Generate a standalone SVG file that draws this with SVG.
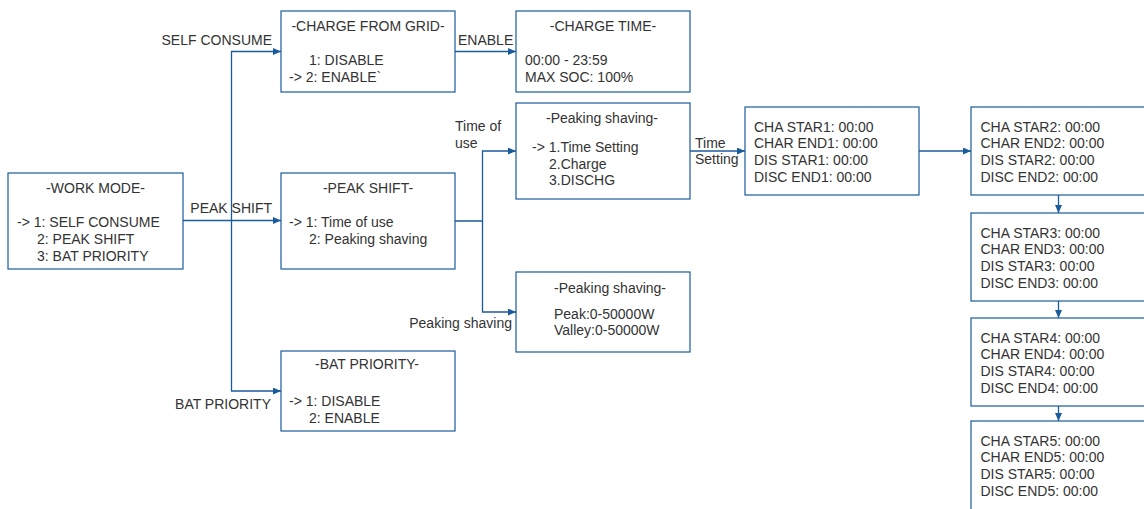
<svg xmlns="http://www.w3.org/2000/svg" width="1144" height="509" viewBox="0 0 1144 509">
<style>
.box{fill:#ffffff;stroke:#1a5b9c;stroke-width:1.2}
.t{font-family:"Liberation Sans",Arial,sans-serif;font-size:14px;fill:#333333}
.c{text-anchor:middle}
.e{text-anchor:end}
.ln{fill:none;stroke:#1a5b9c;stroke-width:1.3}
</style>
<defs>
<marker id="arr" markerUnits="userSpaceOnUse" markerWidth="8" markerHeight="7" refX="8" refY="3.5" orient="auto">
<path d="M0,0 L8,3.5 L0,7 z" fill="#1a5b9c"/>
</marker>
</defs>
<rect width="1144" height="509" fill="#ffffff"/>

<g id="connectors">
<path class="ln" d="M183,220.5 H281" marker-end="url(#arr)"/>
<path class="ln" d="M231.5,220.5 V51.5 H281" marker-end="url(#arr)"/>
<path class="ln" d="M231.5,220.5 V391 H281" marker-end="url(#arr)"/>
<path class="ln" d="M455,51.5 H516" marker-end="url(#arr)"/>
<path class="ln" d="M455,221 H482.5 V151 H516" marker-end="url(#arr)"/>
<path class="ln" d="M482.5,221 V312 H516" marker-end="url(#arr)"/>
<path class="ln" d="M690,151 H745" marker-end="url(#arr)"/>
<path class="ln" d="M919,151 H971" marker-end="url(#arr)"/>
<path class="ln" d="M1058.5,195 V213" marker-end="url(#arr)"/>
<path class="ln" d="M1058.5,301 V318" marker-end="url(#arr)"/>
<path class="ln" d="M1058.5,406 V421" marker-end="url(#arr)"/>
<text class="t e" x="272" y="44.5">SELF CONSUME</text>
<text class="t e" x="272" y="213">PEAK SHIFT</text>
<text class="t e" x="271" y="409">BAT PRIORITY</text>
<text class="t" x="458" y="45">ENABLE</text>
<text class="t" x="455" y="131">Time of</text>
<text class="t" x="455" y="147.5">use</text>
<text class="t e" x="512" y="328">Peaking shaving</text>
<text class="t" x="695" y="148">Time</text>
<text class="t" x="695" y="164">Setting</text>
</g>

<g id="work-mode">
<rect class="box" x="8" y="173" width="175" height="96"/>
<text class="t c" x="95.5" y="193">-WORK MODE-</text>
<text class="t" x="17" y="227">-&gt; 1: SELF CONSUME</text>
<text class="t" x="37" y="244">2: PEAK SHIFT</text>
<text class="t" x="37" y="261">3: BAT PRIORITY</text>
</g>

<g id="charge-from-grid">
<rect class="box" x="281" y="11" width="174" height="81"/>
<text class="t c" x="368" y="31">-CHARGE FROM GRID-</text>
<text class="t" x="309" y="65">1: DISABLE</text>
<text class="t" x="289" y="82">-&gt; 2: ENABLE`</text>
</g>

<g id="charge-time">
<rect class="box" x="516" y="11" width="174" height="81"/>
<text class="t c" x="603" y="31">-CHARGE TIME-</text>
<text class="t" x="525" y="65">00:00 - 23:59</text>
<text class="t" x="525" y="82">MAX SOC: 100%</text>
</g>

<g id="peak-shift">
<rect class="box" x="281" y="173" width="174" height="96"/>
<text class="t c" x="368" y="193">-PEAK SHIFT-</text>
<text class="t" x="289" y="227">-&gt; 1: Time of use</text>
<text class="t" x="309" y="244">2: Peaking shaving</text>
</g>

<g id="peaking-shaving-time">
<rect class="box" x="516" y="103" width="174" height="96"/>
<text class="t c" x="602" y="123">-Peaking shaving-</text>
<text class="t" x="532" y="152">-&gt; 1.Time Setting</text>
<text class="t" x="549" y="168.5">2.Charge</text>
<text class="t" x="549" y="185">3.DISCHG</text>
</g>

<g id="peaking-shaving-power">
<rect class="box" x="516" y="272" width="174" height="80"/>
<text class="t c" x="610" y="293">-Peaking shaving-</text>
<text class="t" x="554" y="318.5">Peak:0-50000W</text>
<text class="t" x="554" y="335">Valley:0-50000W</text>
</g>

<g id="bat-priority">
<rect class="box" x="281" y="351" width="174" height="80"/>
<text class="t c" x="367" y="369">-BAT PRIORITY-</text>
<text class="t" x="289" y="406">-&gt; 1: DISABLE</text>
<text class="t" x="309" y="423">2: ENABLE</text>
</g>

<g id="time-slot-1">
<rect class="box" x="745" y="107" width="174" height="88"/>
<text class="t" x="754" y="131.5">CHA STAR1: 00:00</text>
<text class="t" x="754" y="148.3">CHAR END1: 00:00</text>
<text class="t" x="754" y="165">DIS STAR1: 00:00</text>
<text class="t" x="754" y="181.5">DISC END1: 00:00</text>
</g>

<g id="time-slot-2">
<rect class="box" x="971" y="107" width="174" height="88"/>
<text class="t" x="980.5" y="131.5">CHA STAR2: 00:00</text>
<text class="t" x="980.5" y="148.3">CHAR END2: 00:00</text>
<text class="t" x="980.5" y="165">DIS STAR2: 00:00</text>
<text class="t" x="980.5" y="181.5">DISC END2: 00:00</text>
</g>

<g id="time-slot-3">
<rect class="box" x="971" y="213" width="174" height="88"/>
<text class="t" x="980.5" y="237.5">CHA STAR3: 00:00</text>
<text class="t" x="980.5" y="254.3">CHAR END3: 00:00</text>
<text class="t" x="980.5" y="271">DIS STAR3: 00:00</text>
<text class="t" x="980.5" y="287.5">DISC END3: 00:00</text>
</g>

<g id="time-slot-4">
<rect class="box" x="971" y="318" width="174" height="88"/>
<text class="t" x="980.5" y="342.5">CHA STAR4: 00:00</text>
<text class="t" x="980.5" y="359.3">CHAR END4: 00:00</text>
<text class="t" x="980.5" y="376">DIS STAR4: 00:00</text>
<text class="t" x="980.5" y="392.5">DISC END4: 00:00</text>
</g>

<g id="time-slot-5">
<rect class="box" x="971" y="421" width="174" height="90"/>
<text class="t" x="980.5" y="445.5">CHA STAR5: 00:00</text>
<text class="t" x="980.5" y="462.3">CHAR END5: 00:00</text>
<text class="t" x="980.5" y="479">DIS STAR5: 00:00</text>
<text class="t" x="980.5" y="495.5">DISC END5: 00:00</text>
</g>
</svg>
